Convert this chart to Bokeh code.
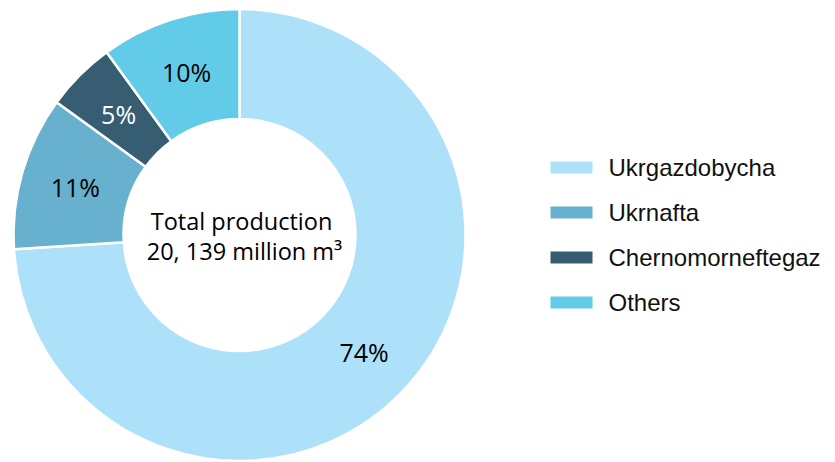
import numpy as np
from bokeh.plotting import figure
from bokeh.models import ColumnDataSource
from bokeh.core.properties import value
from bokeh.embed import file_html
from bokeh.resources import INLINE

categories = ["Ukrgazdobycha", "Ukrnafta", "Chernomorneftegaz", "Others"]
shares = [74, 11, 5, 10]
labels = ["74%", "11%", "5%", "10%"]
colors = ["#ADE1FA", "#67B0CE", "#375D73", "#62CBE8"]
label_colors = ["black", "black", "white", "black"]
center_lines = ["Total production", "20, 139 million m\u00b3"]

W, H = 835, 462
# centre of the donut in screen pixels (top-left origin)
cx = 239
cy = H - 234.5
r_in, r_out = 116, 226

frac = np.array(shares, dtype=float) / sum(shares)
cum = np.concatenate([[0], np.cumsum(frac)])
start = np.pi / 2 - 2 * np.pi * cum[:-1]
end = np.pi / 2 - 2 * np.pi * cum[1:]
mid = (start + end) / 2
r_mid = (r_in + r_out) / 2

src = ColumnDataSource(dict(
    cat=categories, start=start, end=end, color=colors,
    lx=cx + r_mid * np.cos(mid), ly=cy + r_mid * np.sin(mid),
    label=labels, lcolor=label_colors,
    sx=[571] * 4, sy=[H - 167 - 45 * i for i in range(4)],
    tx=[608] * 4,
))

p = figure(width=W, height=H, x_range=(0, W), y_range=(0, H),
           output_backend="svg", toolbar_location=None,
           min_border=0, outline_line_color=None)
p.axis.visible = False
p.grid.visible = False
p.background_fill_color = "white"

p.annular_wedge(x=cx, y=cy, inner_radius=r_in, outer_radius=r_out,
                start_angle="start", end_angle="end", direction="clock",
                fill_color="color", line_color="white", line_width=2.5,
                source=src)

p.text(x="lx", y="ly", text="label", text_color="lcolor",
       text_font=value("Open Sans"), text_font_size="25px",
       text_align="center", text_baseline="middle", source=src)

p.text(x=[cx + 2, cx + 5], y=[H - 220, H - 250.5], text=center_lines,
       text_color="black", text_font=value("Open Sans"),
       text_font_size="23.5px", text_align="center",
       text_baseline="alphabetic")

p.rect(x="sx", y="sy", width=42, height=12, fill_color="color",
       line_color=None, source=src)
p.text(x="tx", y="sy", text="cat", text_color="#111111",
       text_font=value("Liberation Sans"), text_font_size="24px",
       text_align="left", text_baseline="middle", source=src)

open("out.html", "w").write(file_html(p, INLINE))
